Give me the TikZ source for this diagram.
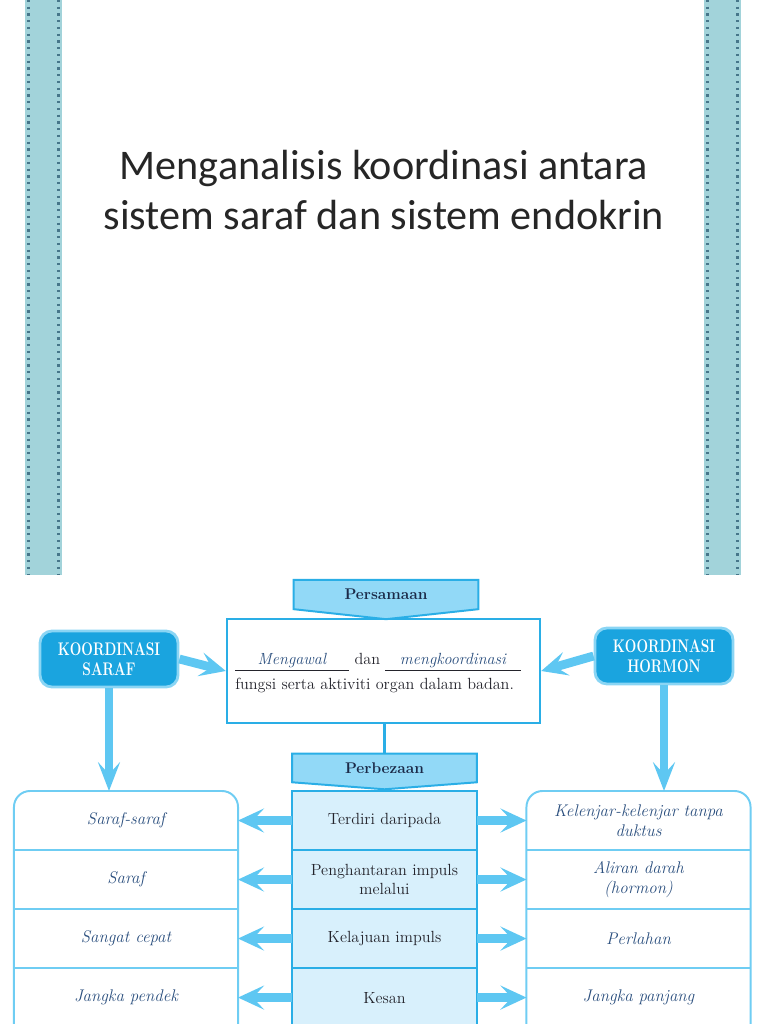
\documentclass[tikz,border=0pt]{standalone}
\usepackage{fontspec}
\newfontfamily\titlefont{Carlito}
\usepackage{xcolor}
\usepackage{graphicx}
\usetikzlibrary{arrows.meta,positioning,calc,backgrounds}
\definecolor{stripe}{HTML}{A2D3DA}
\definecolor{stripedot}{HTML}{46768A}
\definecolor{titleink}{HTML}{262626}
\definecolor{cyanbd}{HTML}{2AAEE6}
\definecolor{bannerbg}{HTML}{92D9F7}
\definecolor{kboxbg}{HTML}{1AA4DF}
\definecolor{kboxbd}{HTML}{8AD5F4}
\definecolor{arrowc}{HTML}{5EC7F2}
\definecolor{sidebd}{HTML}{6FCDF3}
\definecolor{midbg}{HTML}{D8F0FC}
\definecolor{ink}{HTML}{24242C}
\definecolor{navy}{HTML}{1B2A48}
\definecolor{italink}{HTML}{2B4F7E}
\newcommand{\kname}[1]{\scalebox{0.75}[1]{#1}}
\tikzset{
  banner/.style={draw=cyanbd,fill=bannerbg,line width=1.4pt},
  bannertext/.style={font=\fontsize{11}{12}\selectfont\bfseries,text=navy,
                     minimum width=4.6cm,minimum height=0.72cm,inner sep=0pt},
  kbox/.style={draw=kboxbd,fill=kboxbg,line width=2pt,rounded corners=0.3cm,
               minimum width=3.45cm,minimum height=1.4cm,align=center,text=white,
               font=\fontsize{13}{14.5}\selectfont\bfseries},
  midrow/.style={draw=cyanbd,fill=midbg,line width=1.6pt,minimum width=4.625cm,
                 minimum height=1.475cm,align=center,text=ink,inner sep=0pt,
                 outer sep=0pt,font=\fontsize{11.5}{14}\selectfont},
  siderow/.style={minimum width=5.6cm,minimum height=1.475cm,align=center,
                  text=italink,inner sep=0pt,outer sep=0pt,
                  font=\fontsize{12}{14}\selectfont\itshape},
  sideline/.style={draw=sidebd,line width=1.4pt},
  arrowfat/.style={-{Stealth[length=0.65cm,width=0.6cm,inset=0.28cm]},
                   line width=0.22cm,arrowc},
  arrowdown/.style={-{Stealth[length=0.72cm,width=0.55cm,inset=0.3cm]},
                    line width=0.18cm,arrowc},
}
\begin{document}
\begin{tikzpicture}[x=0.025cm,y=-0.025cm]
  \clip (0,0) rectangle (768,1024);
  % Slide stripes
  \foreach \sx in {25,704}{
    \fill[stripe] (\sx,0) rectangle (\sx+37,575);
    \draw[stripedot,line width=2.2pt,dash pattern=on 1.5pt off 3.3pt]
      (\sx+3.5,0) -- (\sx+3.5,575);
    \draw[stripedot,line width=2.2pt,dash pattern=on 1.5pt off 3.3pt]
      (\sx+33.5,0) -- (\sx+33.5,575);
  }
  % Title
  \node[font=\titlefont\fontsize{30}{35.5}\selectfont,text=titleink,align=center]
    (title) at (384,190) {Menganalisis koordinasi antara\\sistem saraf dan sistem endokrin};
  % Persamaan
  \node[bannertext] (pbanner) at (386,594.5) {Persamaan};
  \node[draw=cyanbd,line width=1.6pt,minimum width=7.825cm,minimum height=2.6cm]
    (sama) at (383.5,671) {};
  \node[anchor=west,align=left,text=ink,font=\fontsize{11.5}{17.7}\selectfont,inner sep=0pt]
    (samatext) at (235,673)
    {\underline{\makebox[2.85cm]{\textcolor{italink}{\textit{Mengawal}}}} dan
     \underline{\makebox[3.4cm]{\textcolor{italink}{\textit{mengkoordinasi}}}}\\
     fungsi serta aktiviti organ dalam badan.};
  % Koordinasi boxes
  \node[kbox] (saraf) at (109,659) {\kname{KOORDINASI}\\\kname{SARAF}};
  \node[kbox] (hormon) at (664,656) {\kname{KOORDINASI}\\\kname{HORMON}};
  % Perbezaan
  \node[bannertext,minimum height=0.7cm] (bbanner) at (384.5,768) {Perbezaan};
  \begin{scope}[on background layer]
    \draw[banner] (pbanner.north west) -- (pbanner.north east) -- (pbanner.south east)
      -- ($(pbanner.south)+(0,10)$) -- (pbanner.south west) -- cycle;
    \draw[banner] (bbanner.north west) -- (bbanner.north east) -- (bbanner.south east)
      -- ($(bbanner.south)+(0,7)$) -- (bbanner.south west) -- cycle;
  \end{scope}
  \draw[cyanbd,line width=2.8pt] (bbanner.north) -- (bbanner.north |- sama.south);
  % Middle table
  \node[midrow,anchor=north] (m1) at (384.5,791) {Terdiri daripada};
  \node[midrow,below=0pt of m1] (m2) {Penghantaran impuls\\melalui};
  \node[midrow,below=0pt of m2] (m3) {Kelajuan impuls};
  \node[midrow,below=0pt of m3] (m4) {Kesan};
  % Left table
  \node[siderow,anchor=north] (l1) at (126,791) {Saraf-saraf};
  \node[siderow,below=0pt of l1] (l2) {Saraf};
  \node[siderow,below=0pt of l2] (l3) {Sangat cepat};
  \node[siderow,below=0pt of l3] (l4) {Jangka pendek};
  % Right table
  \node[siderow,anchor=north] (r1) at (638.5,791) {Kelenjar-kelenjar tanpa\\duktus};
  \node[siderow,below=0pt of r1] (r2) {Aliran darah\\(hormon)};
  \node[siderow,below=0pt of r2] (r3) {Perlahan};
  \node[siderow,below=0pt of r3] (r4) {Jangka panjang};
  \draw[sideline,rounded corners=0.4cm] (l4.south west) |- (l1.north) -| (l4.south east);
  \draw[sideline,rounded corners=0.4cm] (r4.south west) |- (r1.north) -| (r4.south east);
  \foreach \r in {1,2,3}{
    \draw[sideline] (l\r.south west) -- (l\r.south east);
    \draw[sideline] (r\r.south west) -- (r\r.south east);
  }
  % Arrows
  \draw[arrowfat] (saraf.east) -- (sama.west);
  \draw[arrowfat] (hormon.west) -- (sama.east);
  \draw[arrowdown] (saraf.south) -- (saraf.south |- l1.north);
  \draw[arrowdown] (hormon.south) -- (hormon.south |- r1.north);
  \foreach \r in {1,...,4}{
    \draw[arrowfat] (m\r.west) -- (l\r.east);
    \draw[arrowfat] (m\r.east) -- (r\r.west);
  }
\end{tikzpicture}
\end{document}
